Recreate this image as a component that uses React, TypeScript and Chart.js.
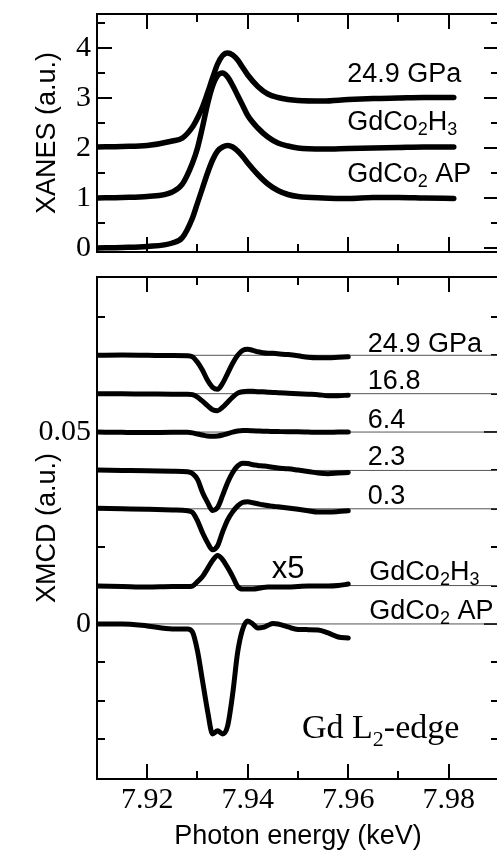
import React, { useEffect, useRef } from "react";
import { Chart, registerables } from "chart.js";

Chart.register(...registerables);

const SANS = '"Liberation Sans", Arial, sans-serif';
const SERIF = '"Liberation Serif", "Times New Roman", serif';

// ---------- shared x axis ----------
const X_MIN = 7.91;
const X_MAX = 7.99;
const X_MAJOR = [7.92, 7.94, 7.96, 7.98];
const X_MINOR = [7.93, 7.95, 7.97];

// ---------- XANES (top panel) ----------
const E_XANES = [7.910, 7.915, 7.920, 7.925, 7.927, 7.929, 7.930, 7.931, 7.932, 7.933, 7.934, 7.935, 7.936, 7.937, 7.938, 7.939, 7.940, 7.942, 7.944, 7.946, 7.948, 7.950, 7.955, 7.960, 7.965, 7.970, 7.975, 7.981];
const XANES_AP = [0.00, 0.01, 0.03, 0.10, 0.21, 0.60, 0.90, 1.20, 1.50, 1.76, 1.94, 2.02, 2.05, 2.02, 1.94, 1.83, 1.70, 1.47, 1.28, 1.15, 1.07, 1.03, 1.00, 0.99, 1.01, 1.01, 1.00, 0.99];
const XANES_H3 = [0.00, 0.01, 0.03, 0.12, 0.28, 0.70, 1.00, 1.42, 1.88, 2.24, 2.45, 2.50, 2.42, 2.25, 2.05, 1.85, 1.65, 1.40, 1.22, 1.10, 1.04, 1.00, 0.98, 0.99, 1.00, 1.01, 1.02, 1.02];
const XANES_249 = [0.02, 0.03, 0.05, 0.14, 0.20, 0.42, 0.60, 0.82, 1.10, 1.40, 1.68, 1.85, 1.90, 1.86, 1.76, 1.61, 1.46, 1.23, 1.08, 1.01, 0.97, 0.95, 0.94, 0.97, 0.99, 1.00, 1.01, 1.01];
const XANES_SERIES = [XANES_AP, XANES_H3, XANES_249];
const XANES_OFFSETS = [0, 1, 2];
const XANES_Y_MIN = -0.08;
const XANES_Y_MAX = 4.68;
const XANES_Y_TICKS = [0, 1, 2, 3, 4];
const XANES_Y_MINOR = [0.5, 1.5, 2.5, 3.5, 4.5];
const XANES_LABELS = [
  { text: "24.9 GPa", e: 7.9598, v: 3.326 },
  { text: "GdCo_2H_3", e: 7.9598, v: 2.36 },
  { text: "GdCo_2 AP", e: 7.9598, v: 1.33 },
];

// ---------- XMCD (bottom panel) ----------
const E_XMCD = [7.910, 7.915, 7.920, 7.925, 7.928, 7.929, 7.930, 7.931, 7.932, 7.933, 7.934, 7.935, 7.936, 7.937, 7.938, 7.939, 7.940, 7.941, 7.942, 7.943, 7.944, 7.945, 7.946, 7.948, 7.950, 7.952, 7.954, 7.956, 7.958, 7.960];
const XMCD_249 = [0, 0.00008, 0, -0.00008, -0.00013, -0.00039, -0.00182, -0.00391, -0.00651, -0.00833, -0.00885, -0.00729, -0.00469, -0.00208, 0, 0.0013, 0.00156, 0.0013, 0.00091, 0.00065, 0.00052, 0.00052, 0.00039, 0.00018, -0.00013, -0.00052, -0.00065, -0.00065, -0.00052, -0.00039];
const XMCD_168 = [0, -0.00005, -0.00008, -0.00013, -0.00013, -0.00026, -0.00091, -0.00195, -0.00313, -0.00417, -0.00443, -0.00352, -0.00221, -0.00091, 0.00013, 0.00052, 0.00065, 0.0006, 0.00052, 0.00047, 0.00039, 0.00031, 0.00026, 0.00013, 0, -0.00013, -0.00026, -0.00052, -0.00052, -0.00039];
const XMCD_64 = [0, -0.00008, -0.00013, -0.00008, -0.00008, -0.00021, -0.00052, -0.00078, -0.00104, -0.00112, -0.00104, -0.00078, -0.00039, 0, 0.00026, 0.00039, 0.00039, 0.00031, 0.00026, 0.00021, 0.00018, 0.00016, 0.00013, 0.00008, 0.00008, 0, -0.00008, -0.00008, 0, 0];
const XMCD_23 = [0.00008, 0, -0.00008, -0.00021, -0.00034, -0.00078, -0.00234, -0.00573, -0.00833, -0.01042, -0.00964, -0.00651, -0.00313, -0.00052, 0.00117, 0.0019, 0.00182, 0.00148, 0.0013, 0.00117, 0.00104, 0.00083, 0.00063, 0.00044, 0.0001, -0.00026, -0.00068, -0.00086, -0.00068, -0.00052];
const XMCD_03 = [0.00013, 0, -0.00013, -0.00031, -0.00052, -0.00091, -0.00313, -0.00625, -0.00885, -0.01068, -0.00964, -0.00599, -0.00286, -0.00078, 0.00078, 0.00169, 0.00182, 0.00156, 0.0013, 0.00104, 0.00086, 0.00065, 0.00052, 0.00021, -0.00013, -0.00052, -0.00086, -0.00086, -0.00073, -0.00052];
const XMCD_H3_X5 = [-0.00013, -0.00026, -0.00039, -0.00026, -0.00026, -0.00013, 0.00104, 0.00234, 0.00443, 0.00651, 0.00781, 0.00677, 0.00469, 0.00234, -0.00026, -0.00091, -0.00091, -0.00091, -0.00078, -0.00052, -0.00039, -0.00039, -0.00039, -0.00039, -0.00026, -0.00013, -0.00013, -0.00013, 0, 0.00039];
const XMCD_AP = [0, 0, -0.00052, -0.0013, -0.0013, -0.00208, -0.00703, -0.01484, -0.02266, -0.02865, -0.02786, -0.02865, -0.02656, -0.01823, -0.00729, -0.0013, 0.00078, 0, -0.00104, -0.00091, -0.00039, 0.00013, 0, -0.00078, -0.00143, -0.00148, -0.00156, -0.00234, -0.00339, -0.00365];
const XMCD_SERIES = [XMCD_249, XMCD_168, XMCD_64, XMCD_23, XMCD_03, XMCD_H3_X5, XMCD_AP];
const XMCD_OFFSETS = [0.07, 0.06, 0.05, 0.04, 0.03, 0.01, 0];
const XMCD_Y_MIN = -0.0404;
const XMCD_Y_MAX = 0.0904;
const XMCD_Y_TICKS = [0, 0.05];
const XMCD_Y_MINOR = [-0.03, -0.02, -0.01, 0.01, 0.02, 0.03, 0.04, 0.06, 0.07, 0.08];
const XMCD_LABELS = [
  { text: "24.9 GPa", e: 7.9639, v: 0.0709 },
  { text: "16.8", e: 7.9639, v: 0.0611 },
  { text: "6.4", e: 7.9639, v: 0.0511 },
  { text: "2.3", e: 7.9639, v: 0.0414 },
  { text: "0.3", e: 7.9639, v: 0.0312 },
  { text: "GdCo_2H_3", e: 7.9642, v: 0.0115 },
  { text: "GdCo_2 AP", e: 7.9642, v: 0.0012 },
];
const X5_LABEL = { text: "x5", e: 7.9448, v: 0.0119 };
const EDGE_LABEL = { text: "Gd L_2-edge", e: 7.9508, v: -0.0297 };

// ---------- styles ----------
const MAJOR_LEN = 15;
const MINOR_LEN = 8;

function drawRich(ctx: CanvasRenderingContext2D, text: string, x: number, y: number, family: string, size: number, subSize: number, subDrop: number) {
  const parts: { t: string; sub: boolean }[] = [];
  let cur = "";
  for (let i = 0; i < text.length; i++) {
    if (text[i] === "_" && i + 1 < text.length) {
      if (cur) parts.push({ t: cur, sub: false });
      cur = "";
      parts.push({ t: text[i + 1], sub: true });
      i++;
    } else cur += text[i];
  }
  if (cur) parts.push({ t: cur, sub: false });
  ctx.textAlign = "left";
  ctx.textBaseline = "alphabetic";
  ctx.fillStyle = "#000";
  let cx = x;
  for (const p of parts) {
    ctx.font = `${p.sub ? subSize : size}px ${family}`;
    ctx.fillText(p.t, cx, p.sub ? y + subDrop : y);
    cx += ctx.measureText(p.t).width;
  }
}

function makeFramePlugin(yMajor: number[], yMinor: number[]) {
  return {
    id: "frame",
    beforeDatasetsDraw(chart: any) {
      const { ctx, chartArea, scales } = chart;
      const { left, right, top, bottom } = chartArea;
      const xs = scales.x;
      const ys = scales.y;
      ctx.save();
      ctx.strokeStyle = "#000";
      ctx.lineWidth = 2;
      ctx.strokeRect(left, top, right - left, bottom - top);
      const seg = (x1: number, y1: number, x2: number, y2: number) => {
        ctx.beginPath();
        ctx.moveTo(x1, y1);
        ctx.lineTo(x2, y2);
        ctx.stroke();
      };
      X_MAJOR.forEach((v) => {
        const p = Math.round(xs.getPixelForValue(v));
        seg(p, bottom, p, bottom - MAJOR_LEN);
        seg(p, top, p, top + MAJOR_LEN);
      });
      X_MINOR.forEach((v) => {
        const p = Math.round(xs.getPixelForValue(v));
        seg(p, bottom, p, bottom - MINOR_LEN);
        seg(p, top, p, top + MINOR_LEN);
      });
      yMajor.forEach((v) => {
        const p = Math.round(ys.getPixelForValue(v));
        seg(left, p, left + MAJOR_LEN, p);
        seg(right, p, right - MAJOR_LEN, p);
      });
      yMinor.forEach((v) => {
        const p = Math.round(ys.getPixelForValue(v));
        seg(left, p, left + MINOR_LEN, p);
        seg(right, p, right - MINOR_LEN, p);
      });
      ctx.restore();
    },
  };
}

function makeLabelPlugin(draws: (chart: any) => void) {
  return {
    id: "labels",
    afterDraw(chart: any) {
      chart.ctx.save();
      draws(chart);
      chart.ctx.restore();
    },
  };
}

const curveStyle = {
  borderColor: "#000",
  borderWidth: 5.5,
  pointRadius: 0,
  fill: false,
  cubicInterpolationMode: "monotone" as const,
  borderCapStyle: "round" as const,
  borderJoinStyle: "round" as const,
  order: 0,
};

function yAxis(min: number, max: number, ticks: number[], title: string) {
  return {
    type: "linear" as const,
    min,
    max,
    afterBuildTicks: (s: any) => {
      s.ticks = ticks.map((v) => ({ value: v }));
    },
    afterFit: (s: any) => {
      s.width = 97;
      s.paddingTop = 0;
      s.paddingBottom = 0;
    },
    grid: { display: false, drawTicks: false },
    border: { display: false },
    ticks: {
      font: { family: SERIF, size: 30, lineHeight: 1.2 },
      color: "#000",
      padding: 6,
      autoSkip: false,
      callback: (v: any) => String(Number(v)),
    },
    title: {
      display: true,
      text: title,
      color: "#000",
      font: { family: SANS, size: 27, lineHeight: 1 },
      padding: { top: 34.5, bottom: 0 },
    },
  };
}

export default function App() {
  const topRef = useRef<HTMLCanvasElement>(null);
  const botRef = useRef<HTMLCanvasElement>(null);

  useEffect(() => {
    const top = new Chart(topRef.current as HTMLCanvasElement, {
      type: "line",
      data: {
        datasets: XANES_SERIES.map((vals, k) => ({
          ...curveStyle,
          data: E_XANES.map((e, i) => ({ x: e, y: vals[i] + XANES_OFFSETS[k] })),
        })),
      },
      options: {
        responsive: false,
        animation: false,
        devicePixelRatio: 1,
        layout: { padding: { top: 14, right: 11, bottom: 10, left: 0 } },
        plugins: { legend: { display: false }, tooltip: { enabled: false } },
        scales: {
          x: { type: "linear", min: X_MIN, max: X_MAX, display: false },
          y: yAxis(XANES_Y_MIN, XANES_Y_MAX, XANES_Y_TICKS, "XANES (a.u.)") as any,
        },
      },
      plugins: [
        makeFramePlugin(XANES_Y_TICKS, XANES_Y_MINOR),
        makeLabelPlugin((chart) => {
          const { ctx, scales } = chart;
          XANES_LABELS.forEach((l) => {
            drawRich(ctx, l.text, scales.x.getPixelForValue(l.e), scales.y.getPixelForValue(l.v), SANS, 27, 18, 5);
          });
        }),
      ],
    });

    const refLines = XMCD_OFFSETS.map((off) => ({
      data: [
        { x: X_MIN, y: off },
        { x: X_MAX, y: off },
      ],
      borderColor: "#555",
      borderWidth: 1,
      pointRadius: 0,
      fill: false,
      order: 1,
    }));

    const bot = new Chart(botRef.current as HTMLCanvasElement, {
      type: "line",
      data: {
        datasets: [
          ...XMCD_SERIES.map((vals, k) => ({
            ...curveStyle,
            borderWidth: 5,
            data: E_XMCD.map((e, i) => ({ x: e, y: vals[i] + XMCD_OFFSETS[k] })),
          })),
          ...refLines,
        ],
      },
      options: {
        responsive: false,
        animation: false,
        devicePixelRatio: 1,
        layout: { padding: { top: 9, right: 11, bottom: 0, left: 0 } },
        plugins: { legend: { display: false }, tooltip: { enabled: false } },
        scales: {
          x: {
            type: "linear",
            min: X_MIN,
            max: X_MAX,
            afterBuildTicks: (s: any) => {
              s.ticks = X_MAJOR.map((v) => ({ value: v }));
            },
            afterFit: (s: any) => {
              s.height = 71;
              s.paddingLeft = 0;
              s.paddingRight = 0;
            },
            grid: { display: false, drawTicks: false },
            border: { display: false },
            ticks: {
              font: { family: SERIF, size: 30, lineHeight: 1.2 },
              color: "#000",
              padding: 3,
              maxRotation: 0,
              autoSkip: false,
              callback: (v: any) => Number(v).toFixed(2),
            },
            title: {
              display: true,
              text: "Photon energy (keV)",
              color: "#000",
              font: { family: SANS, size: 27, lineHeight: 1 },
              padding: { top: 0, bottom: 0 },
            },
          },
          y: yAxis(XMCD_Y_MIN, XMCD_Y_MAX, XMCD_Y_TICKS, "XMCD (a.u.)") as any,
        },
      },
      plugins: [
        makeFramePlugin(XMCD_Y_TICKS, XMCD_Y_MINOR),
        makeLabelPlugin((chart) => {
          const { ctx, scales } = chart;
          XMCD_LABELS.forEach((l) => {
            drawRich(ctx, l.text, scales.x.getPixelForValue(l.e), scales.y.getPixelForValue(l.v), SANS, 27, 18, 5);
          });
          drawRich(ctx, X5_LABEL.text, scales.x.getPixelForValue(X5_LABEL.e), scales.y.getPixelForValue(X5_LABEL.v), SANS, 31, 20, 5);
          drawRich(ctx, EDGE_LABEL.text, scales.x.getPixelForValue(EDGE_LABEL.e), scales.y.getPixelForValue(EDGE_LABEL.v), SERIF, 34, 22, 8);
        }),
      ],
    });

    return () => {
      top.destroy();
      bot.destroy();
    };
  }, []);

  return (
    <div style={{ position: "absolute", left: 0, top: 0, width: 497, height: 850, overflow: "hidden", background: "#fff" }}>
      <canvas ref={topRef} width={510} height={262} style={{ position: "absolute", left: 0, top: 0, width: 510, height: 262 }} />
      <canvas ref={botRef} width={510} height={582} style={{ position: "absolute", left: 0, top: 268, width: 510, height: 582 }} />
    </div>
  );
}
